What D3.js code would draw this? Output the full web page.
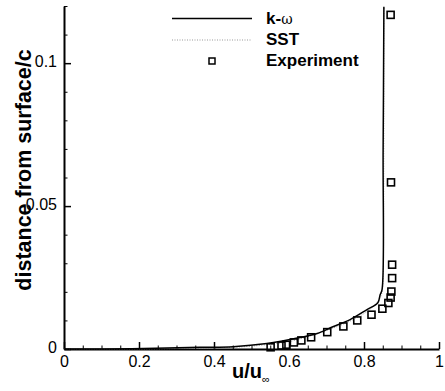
<!DOCTYPE html>
<html>
<head>
<meta charset="utf-8">
<script src="https://cdn.jsdelivr.net/npm/d3@7/dist/d3.min.js"></script>
<style>
  html, body { margin: 0; padding: 0; background: #fff; }
  svg { display: block; }
  text { font-family: "Liberation Sans", Arial, Helvetica, sans-serif; fill: #000; }
</style>
</head>
<body>
<svg id="chart" width="445" height="391"></svg>
<script>
// Velocity profile u/u_inf against wall distance y/c
const kOmegaU = [0, 0.18, 0.363, 0.451, 0.541, 0.629, 0.675, 0.717, 0.763, 0.808, 0.837, 0.843, 0.848, 0.851, 0.853];
const kOmegaY = [0, 0.0001, 0.0006, 0.0008, 0.0019, 0.0040, 0.0054, 0.0078, 0.0103, 0.0138, 0.0162, 0.0190, 0.0207, 0.0697, 0.1197];

const sstU = [0, 0.2, 0.4, 0.5, 0.6, 0.65, 0.7, 0.75, 0.8, 0.83, 0.845, 0.850, 0.852, 0.853, 0.853];
const sstY = [0, 0.00005, 0.0004, 0.0010, 0.0026, 0.0043, 0.0065, 0.0090, 0.0124, 0.0155, 0.0185, 0.0220, 0.0400, 0.0800, 0.1197];

const expU = [0.551, 0.580, 0.593, 0.613, 0.633, 0.659, 0.702, 0.745, 0.782, 0.820, 0.849, 0.865, 0.871, 0.873, 0.875, 0.875, 0.872, 0.871];
const expY = [0.0006, 0.0012, 0.0015, 0.0023, 0.0030, 0.0041, 0.0059, 0.0079, 0.0100, 0.0120, 0.0141, 0.0161, 0.0180, 0.0201, 0.0248, 0.0295, 0.0583, 0.1169];

const xTicks = [0, 0.2, 0.4, 0.6, 0.8, 1];
const xTickLabels = ["0", "0.2", "0.4", "0.6", "0.8", "1"];
const yTicks = [0, 0.05, 0.1];
const yTickLabels = ["0", "0.05", "0.1"];
const legendLabels = ["k-", "SST", "Experiment"];

const svg = d3.select("#chart");
const x = d3.scaleLinear().domain([0, 1]).range([64, 439]);
const y = d3.scaleLinear().domain([0, 0.12]).range([349, 6]);

// minor ticks
const xMinor = d3.range(0, 1.0001, 0.05).filter(v => !xTicks.some(t => Math.abs(t - v) < 1e-9));
const yMinor = d3.range(0, 0.12001, 0.01).filter(v => !yTicks.some(t => Math.abs(t - v) < 1e-9));

svg.append("g")
  .attr("transform", `translate(0,${y(0)})`)
  .call(d3.axisBottom(x).tickValues(xMinor).tickSizeInner(-3.5).tickSizeOuter(0).tickFormat(""))
  .call(g => g.select(".domain").remove())
  .call(g => g.selectAll("line").attr("stroke-width", 1));

svg.append("g")
  .attr("transform", `translate(${x(0)},0)`)
  .call(d3.axisLeft(y).tickValues(yMinor).tickSizeInner(-3.5).tickSizeOuter(0).tickFormat(""))
  .call(g => g.select(".domain").remove())
  .call(g => g.selectAll("line").attr("stroke-width", 1));

// major axes
const xAxis = svg.append("g")
  .attr("transform", `translate(0,${y(0)})`)
  .call(d3.axisBottom(x).tickValues(xTicks).tickSizeInner(-7).tickSizeOuter(0).tickPadding(7)
    .tickFormat((d, i) => xTickLabels[i]));
xAxis.select(".domain").attr("stroke-width", 2);
xAxis.selectAll("line").attr("stroke-width", 1.5);
xAxis.selectAll("text").attr("font-size", 16).style("font-family", "'Liberation Sans', Arial, sans-serif");

const yAxis = svg.append("g")
  .attr("transform", `translate(${x(0)},0)`)
  .call(d3.axisLeft(y).tickValues(yTicks).tickSizeInner(-7).tickSizeOuter(0).tickPadding(7)
    .tickFormat((d, i) => yTickLabels[i]));
yAxis.select(".domain").attr("stroke-width", 2);
yAxis.selectAll("line").attr("stroke-width", 1.5);
yAxis.selectAll("text").attr("font-size", 16).attr("dy", "0.2em").style("font-family", "'Liberation Sans', Arial, sans-serif");

// curves
const line = d3.line().x(d => x(d[0])).y(d => y(d[1])).curve(d3.curveCatmullRom.alpha(0.5));

svg.append("path")
  .datum(sstU.map((u, i) => [u, sstY[i]]))
  .attr("d", line)
  .attr("fill", "none")
  .attr("stroke", "#999")
  .attr("stroke-width", 1)
  .attr("stroke-dasharray", "1,1.5");

svg.append("path")
  .datum(kOmegaU.map((u, i) => [u, kOmegaY[i]]))
  .attr("d", line)
  .attr("fill", "none")
  .attr("stroke", "#000")
  .attr("stroke-width", 1.5);

// experimental points
const sq = 7;
svg.append("g").selectAll("rect")
  .data(expU.map((u, i) => [u, expY[i]]))
  .join("rect")
  .attr("x", d => x(d[0]) - sq / 2)
  .attr("y", d => y(d[1]) - sq / 2)
  .attr("width", sq)
  .attr("height", sq)
  .attr("fill", "none")
  .attr("stroke", "#000")
  .attr("stroke-width", 1.6);

// legend
const lg = svg.append("g");
lg.append("line").attr("x1", 172).attr("x2", 252).attr("y1", 18.5).attr("y2", 18.5)
  .attr("stroke", "#000").attr("stroke-width", 1.6);
lg.append("line").attr("x1", 172).attr("x2", 252).attr("y1", 40).attr("y2", 40)
  .attr("stroke", "#999").attr("stroke-width", 1).attr("stroke-dasharray", "1,1.5");
lg.append("rect").attr("x", 212 - 3).attr("y", 61 - 3).attr("width", 6).attr("height", 6)
  .attr("fill", "none").attr("stroke", "#000").attr("stroke-width", 1.5);

const k = lg.append("text").attr("x", 266).attr("y", 24).attr("font-size", 17).attr("font-weight", "bold");
k.append("tspan").text(legendLabels[0]);
k.append("tspan").attr("font-weight", "normal").attr("font-size", 14).attr("font-family", "'DejaVu Serif', serif").text("ω");
lg.append("text").attr("x", 266).attr("y", 45).attr("font-size", 17).attr("font-weight", "bold").text(legendLabels[1]);
lg.append("text").attr("x", 266).attr("y", 66).attr("font-size", 17).attr("font-weight", "bold").text(legendLabels[2]);

// axis titles
const xt = svg.append("text").attr("x", 232).attr("y", 378).attr("font-size", 20).attr("font-weight", "bold");
xt.append("tspan").text("u/u");
xt.append("tspan").attr("font-size", 11).attr("font-weight", "normal").attr("dy", 5).text("∞");

svg.append("text")
  .attr("transform", "translate(31,170) rotate(-90)")
  .attr("text-anchor", "middle")
  .attr("font-size", 21.5)
  .attr("font-weight", "bold")
  .text("distance from surface/c");
</script>
</body>
</html>
